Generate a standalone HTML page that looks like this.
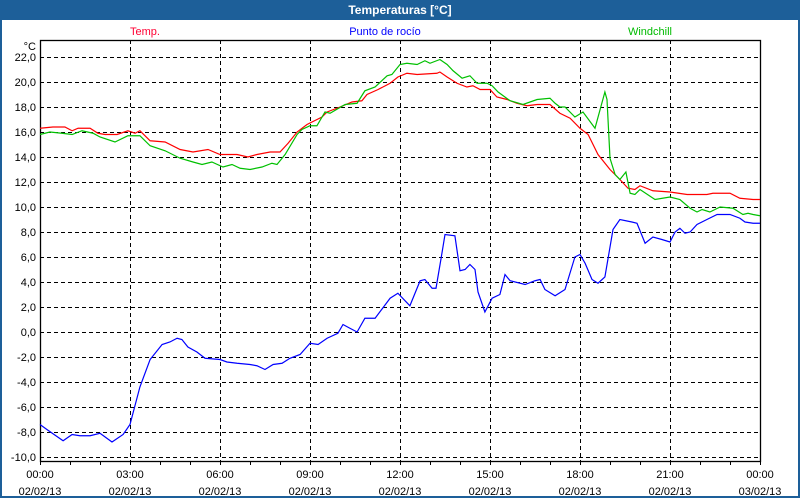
<!DOCTYPE html>
<html><head><meta charset="utf-8"><style>
body{margin:0;width:800px;height:500px;overflow:hidden;background:#fff;font-family:"Liberation Sans","DejaVu Sans",sans-serif}
#win{position:absolute;left:0;top:0;width:796px;height:496px;border:2px solid #1d5f99;border-top:none;background:#fff}
#title{position:absolute;left:0;top:0;width:800px;height:20px;background:#1d5f99;color:#fff;font-weight:bold;font-size:12px;text-align:center;line-height:20px}
svg{position:absolute;left:0;top:0}
</style></head><body>
<div id="win"></div>
<div id="title">Temperaturas [°C]</div>
<svg id="chart" width="800" height="500"></svg>
<script>
const yTicks=[22,20,18,16,14,12,10,8,6,4,2,0,-2,-4,-6,-8,-10];
const xTickLabels=[["00:00","02/02/13"],["03:00","02/02/13"],["06:00","02/02/13"],["09:00","02/02/13"],["12:00","02/02/13"],["15:00","02/02/13"],["18:00","02/02/13"],["21:00","02/02/13"],["00:00","03/02/13"]];
const tempT=[0,0.43,0.83,1.07,1.27,1.67,1.93,2.17,2.57,2.93,3.17,3.33,3.67,4.17,4.67,5.1,5.6,6.0,6.57,6.93,7.23,7.67,8.0,8.27,8.57,8.9,9.4,9.57,10.0,10.4,10.73,10.9,11.27,11.67,11.93,12.23,12.57,13.23,13.33,13.57,13.9,14.23,14.43,14.67,15.0,15.23,15.57,15.9,16.23,16.57,17.0,17.33,17.67,18.0,18.27,18.6,19.0,19.33,19.6,19.83,20.0,20.43,21.0,21.57,22.23,22.43,23.0,23.33,23.77,24];
const tempV=[16.3,16.4,16.4,16.1,16.3,16.3,15.9,15.8,15.8,16.1,15.9,16.1,15.3,15.2,14.6,14.4,14.6,14.2,14.2,14.0,14.2,14.4,14.4,15.1,16.0,16.6,17.2,17.6,18.0,18.4,18.5,19.0,19.4,19.9,20.4,20.7,20.6,20.7,20.8,20.4,19.9,19.6,19.7,19.4,19.4,18.8,18.6,18.3,18.1,18.2,18.2,17.5,17.1,16.3,15.8,14.2,13.0,12.2,11.5,11.4,11.7,11.3,11.2,11.0,11.0,11.1,11.1,10.7,10.6,10.6];
const windT=[0,0.33,0.73,1.07,1.4,1.77,2.0,2.5,2.93,3.33,3.67,4.17,4.67,5.1,5.4,5.73,6.1,6.4,6.67,7.0,7.4,7.73,7.9,8.17,8.57,8.73,9.0,9.23,9.5,9.67,10.17,10.57,10.83,11.17,11.57,11.73,12.0,12.23,12.57,12.83,13.0,13.33,13.57,13.77,14.07,14.33,14.57,14.9,15.07,15.27,15.67,16.1,16.57,17.0,17.17,17.33,17.5,17.83,18.1,18.5,18.83,18.9,19.0,19.17,19.33,19.53,19.67,19.83,20.0,20.5,21.0,21.33,21.67,21.9,22.07,22.33,22.67,23.1,23.43,23.6,23.77,24];
const windV=[15.8,16.0,15.9,15.8,16.1,15.9,15.6,15.2,15.7,15.7,14.9,14.5,13.9,13.6,13.4,13.6,13.2,13.4,13.1,13.0,13.2,13.5,13.4,14.2,15.8,16.2,16.5,16.5,17.6,17.5,18.2,18.3,19.3,19.6,20.5,20.6,21.4,21.5,21.4,21.7,21.5,21.8,21.4,20.9,20.3,20.5,19.9,19.9,19.7,19.2,18.5,18.2,18.6,18.7,18.3,18.0,18.0,17.2,17.6,16.3,19.2,18.6,13.9,12.6,12.2,12.8,11.1,11.0,11.4,10.6,10.8,10.6,9.9,9.6,9.8,9.6,10.0,9.9,9.4,9.5,9.4,9.3];
const dewT=[0,0.23,0.77,1.07,1.33,1.67,2.0,2.4,2.77,3.0,3.33,3.67,4.07,4.33,4.57,4.73,4.93,5.23,5.5,6.0,6.23,6.57,7.0,7.23,7.5,7.77,8.07,8.33,8.67,9.0,9.27,9.57,9.93,10.1,10.33,10.57,10.83,11.17,11.67,11.93,12.33,12.67,12.83,13.07,13.2,13.37,13.5,13.83,14.0,14.17,14.33,14.5,14.6,14.83,15.07,15.33,15.5,15.67,16.17,16.5,16.67,16.83,17.17,17.5,17.83,18.0,18.17,18.4,18.6,18.83,19.1,19.33,19.73,19.9,20.17,20.43,20.73,21.0,21.17,21.33,21.5,21.67,21.9,22.23,22.57,23.0,23.33,23.5,23.77,24];
const dewV=[-7.4,-7.8,-8.7,-8.2,-8.3,-8.3,-8.1,-8.8,-8.2,-7.4,-4.4,-2.2,-1.0,-0.8,-0.5,-0.6,-1.2,-1.6,-2.1,-2.2,-2.4,-2.5,-2.6,-2.7,-3.0,-2.6,-2.5,-2.1,-1.8,-0.9,-1.0,-0.5,-0.1,0.6,0.3,0.0,1.1,1.1,2.7,3.1,2.1,4.1,4.2,3.5,3.5,5.9,7.8,7.7,4.9,5.0,5.4,5.0,3.2,1.6,2.7,3.0,4.6,4.1,3.8,4.1,4.2,3.4,2.9,3.4,6.0,6.2,5.5,4.2,3.9,4.4,8.2,9.0,8.8,8.7,7.1,7.6,7.4,7.2,8.0,8.3,7.9,8.0,8.6,9.0,9.4,9.4,9.1,8.8,8.7,8.7];

const L=40,R=760,T=40,B=461,Y0=332,PPU=12.5;
const xs=h=>L+h*(R-L)/24;
const ys=v=>Y0-v*PPU;
const svg=document.getElementById('chart');
const NS='http://www.w3.org/2000/svg';
function mk(tag,attrs){const e=document.createElementNS(NS,tag);for(const k in attrs)e.setAttribute(k,attrs[k]);svg.appendChild(e);return e;}
// grid
yTicks.forEach(v=>{
  const g=mk('line',{x1:L,x2:R,y1:ys(v)+0.5,y2:ys(v)+0.5,stroke:'#000','stroke-dasharray':'4,3','stroke-width':1});
  
  
  const t=mk('text',{x:36,y:ys(v)+4,'text-anchor':'end','font-size':11,fill:'#000'});
  t.textContent=v.toFixed(1).replace('.',',');
  
  
});
for(let i=1;i<8;i++){
  const g=mk('line',{x1:xs(i*3)+0.5,x2:xs(i*3)+0.5,y1:T,y2:B,stroke:'#000','stroke-dasharray':'4,3'});
  
  
}
for(let h=0;h<=24;h++){
  const tk=mk('line',{x1:xs(h)+0.5,x2:xs(h)+0.5,y1:B,y2:B+4,stroke:'#000'});
  
  
}
xTickLabels.forEach((lb,i)=>{
  const x=xs(i*3);
  const t1=mk('text',{x:x,y:478,'text-anchor':'middle','font-size':11,fill:'#000'});t1.textContent=lb[0];
  
  
  const t2=mk('text',{x:x,y:495,'text-anchor':'middle','font-size':11,fill:'#000'});t2.textContent=lb[1];
  
  
});
const fr=mk('rect',{x:L+0.5,y:T+0.5,width:R-L,height:B-T,fill:'none',stroke:'#000','stroke-width':1.3});


const unit=mk('text',{x:36,y:50,'text-anchor':'end','font-size':11});unit.textContent='°C';


function series(T_,V_,col,name){
  const p=mk('polyline',{points:T_.map((t,i)=>xs(t)+','+ys(V_[i])).join(' '),fill:'none',stroke:col,'stroke-width':1.2});
  
  
}
series(tempT,tempV,'#ff0000','temp-line');
series(windT,windV,'#00c000','windchill-line');
series(dewT,dewV,'#0000ff','dewpoint-line');
[['Temp.',145,'#ff0033','legend-temp'],['Punto de rocío',385,'#0000ff','legend-dewpoint'],['Windchill',650,'#00bb00','legend-windchill']].forEach(l=>{
  const t=mk('text',{x:l[1],y:35,'text-anchor':'middle','font-size':11,fill:l[2]});t.textContent=l[0];
  
  
});
</script>
</body></html>
